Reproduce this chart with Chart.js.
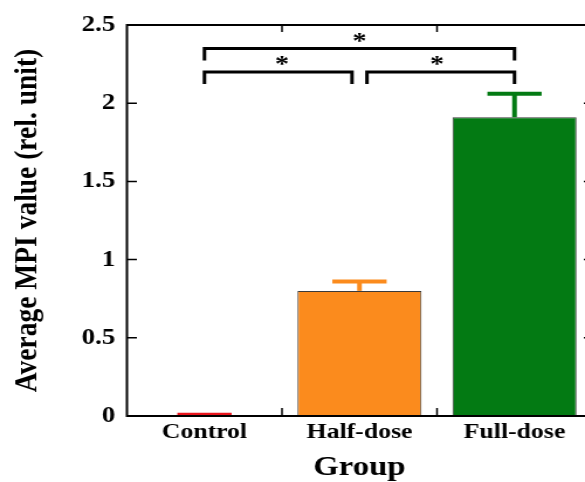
<!DOCTYPE html>
<html>
<head>
<meta charset="utf-8">
<script src="https://cdn.jsdelivr.net/npm/chart.js@4.4.1/dist/chart.umd.min.js"></script>
<style>
  html, body { margin: 0; padding: 0; background: #fff; overflow: hidden; width: 585px; height: 482px; }
  #wrap { width: 520px; height: 482px; transform: scaleX(1.17); transform-origin: 0 0; }
</style>
</head>
<body>
<div id="wrap"><canvas id="barChart" width="520" height="482"></canvas></div>
<script>
// data
const categories = ['Control', 'Half-dose', 'Full-dose'];
const meanValues = [0.005, 0.80, 1.91];
const errValues = [0.003, 0.06, 0.15];
const yTicks = [0, 0.5, 1, 1.5, 2, 2.5];
const yTickLabels = ['0', '0.5', '1', '1.5', '2', '2.5'];

// significance brackets: from group, to group, level, label
const sigFrom = [0, 0, 1];
const sigTo = [2, 1, 2];
const sigLevel = [2.35, 2.2, 2.2];
const sigLabel = ['*', '*', '*'];

const barColors = ['#e8141c', '#fb8b1d', '#037a13'];
const edgeColors = ['#e8141c', '#3a3a3a', '#3a3a3a'];
const serif = '"Liberation Serif", "Times New Roman", serif';

const overlay = {
    id: 'overlay',
    afterDatasetsDraw(chart) {
        const ctx = chart.ctx;
        const a = chart.chartArea;
        const x = chart.scales.x;
        const y = chart.scales.y;
        const step = x.getPixelForValue(1) - x.getPixelForValue(0);
        ctx.save();

        // error bars (upper only)
        meanValues.forEach(function (v, i) {
            const cx = x.getPixelForValue(i);
            const half = step * 0.175;
            const top = y.getPixelForValue(v + errValues[i]);
            ctx.strokeStyle = barColors[i];
            ctx.lineWidth = 4;
            ctx.beginPath();
            ctx.moveTo(cx, y.getPixelForValue(v));
            ctx.lineTo(cx, top);
            ctx.stroke();
            ctx.beginPath();
            ctx.moveTo(cx - half, top);
            ctx.lineTo(cx + half, top);
            ctx.stroke();
        });

        // frame and inward ticks
        ctx.strokeStyle = '#000';
        ctx.lineWidth = 2;
        ctx.strokeRect(a.left, a.top, a.right - a.left, a.bottom - a.top);
        ctx.lineWidth = 1.5;
        yTicks.forEach(function (t) {
            const py = y.getPixelForValue(t);
            ctx.beginPath();
            ctx.moveTo(a.left, py); ctx.lineTo(a.left + 8.5, py);
            ctx.moveTo(a.right, py); ctx.lineTo(a.right - 7, py);
            ctx.stroke();
        });
        for (let i = 0; i < categories.length - 1; i++) {
            const px = (x.getPixelForValue(i) + x.getPixelForValue(i + 1)) / 2;
            ctx.beginPath();
            ctx.moveTo(px, a.bottom); ctx.lineTo(px, a.bottom - 8);
            ctx.moveTo(px, a.top); ctx.lineTo(px, a.top + 7);
            ctx.stroke();
        }

        // significance brackets
        const gap = 6.4;
        const legLen = 10.5;
        ctx.lineWidth = 3;
        ctx.lineCap = 'square';
        ctx.fillStyle = '#000';
        ctx.font = 'bold 24px ' + serif;
        ctx.textAlign = 'center';
        ctx.textBaseline = 'alphabetic';
        sigFrom.forEach(function (f, k) {
            const t = sigTo[k];
            let x1 = x.getPixelForValue(f);
            let x2 = x.getPixelForValue(t);
            sigFrom.forEach(function (f2, j) {
                if (j === k || sigLevel[j] !== sigLevel[k]) return;
                if (f2 === t || sigTo[j] === t) x2 -= gap;
                if (f2 === f || sigTo[j] === f) x1 += gap;
            });
            const py = y.getPixelForValue(sigLevel[k]);
            ctx.beginPath();
            ctx.moveTo(x1, py + legLen);
            ctx.lineTo(x1, py);
            ctx.lineTo(x2, py);
            ctx.lineTo(x2, py + legLen);
            ctx.stroke();
            ctx.fillText(sigLabel[k], (x.getPixelForValue(f) + x.getPixelForValue(t)) / 2, py - 0.5);
        });
        ctx.restore();
    }
};

const ctx = document.getElementById('barChart').getContext('2d');

const barChart = new Chart(ctx, {
    type: 'bar',
    data: {
        labels: categories,
        datasets: [{
            data: meanValues,
            backgroundColor: barColors,
            borderColor: edgeColors,
            borderWidth: 1,
            barPercentage: 0.8,
            categoryPercentage: 1.0
        }]
    },
    options: {
        responsive: false,
        animation: false,
        devicePixelRatio: 1,
        layout: {
            padding: { top: 25, right: 14, left: 0, bottom: 0 }
        },
        plugins: {
            legend: { display: false },
            tooltip: { enabled: false }
        },
        scales: {
            x: {
                grid: { display: false, drawTicks: false },
                border: { display: false },
                ticks: {
                    color: '#000',
                    padding: 3,
                    maxRotation: 0,
                    font: { family: serif, size: 22, weight: 'bold' }
                },
                title: {
                    display: true,
                    text: 'Group',
                    color: '#000',
                    padding: { top: 0, bottom: 0 },
                    font: { family: serif, size: 28, weight: 'bold', lineHeight: 1 }
                },
                afterFit: function (scale) { scale.height = 66; }
            },
            y: {
                min: 0,
                max: 2.5,
                grid: { display: false, drawTicks: false },
                border: { display: false },
                afterBuildTicks: function (scale) {
                    scale.ticks = yTicks.map(function (v) { return { value: v }; });
                },
                ticks: {
                    color: '#000',
                    padding: 10,
                    font: { family: serif, size: 23, weight: 'bold' },
                    callback: function (value) {
                        const i = yTicks.indexOf(value);
                        return i >= 0 ? yTickLabels[i] : '';
                    }
                },
                title: {
                    display: true,
                    text: 'Average MPI value (rel. unit)',
                    color: '#000',
                    padding: { top: 10.5, bottom: 0 },
                    font: { family: serif, size: 27.5, weight: 'bold', lineHeight: 1 }
                },
                afterFit: function (scale) { scale.width = 108.5; }
            }
        }
    },
    plugins: [overlay]
});
</script>
</body>
</html>
